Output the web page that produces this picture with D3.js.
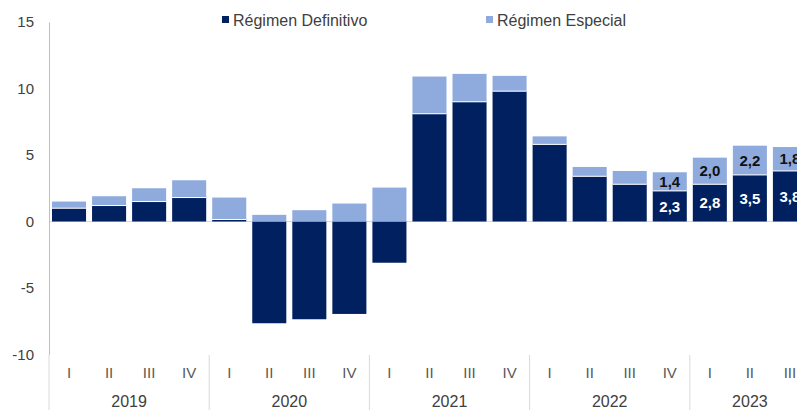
<!DOCTYPE html>
<html>
<head>
<meta charset="utf-8">
<script src="https://d3js.org/d3.v7.min.js"></script>
<style>
  body { margin: 0; background: #fff; }
  text { font-family: "Liberation Sans", Arial, sans-serif; }
</style>
</head>
<body>
<div id="chart"></div>
<script>
// data
var years = ["2019", "2020", "2021", "2022", "2023"];
var periods = [
  "2019-I", "2019-II", "2019-III", "2019-IV",
  "2020-I", "2020-II", "2020-III", "2020-IV",
  "2021-I", "2021-II", "2021-III", "2021-IV",
  "2022-I", "2022-II", "2022-III", "2022-IV",
  "2023-I", "2023-II", "2023-III"
];
var definitivo = [1.0, 1.2, 1.5, 1.8, 0.15, -7.65, -7.35, -6.95, -3.1, 8.1, 9.0, 9.8, 5.8, 3.4, 2.8, 2.3, 2.8, 3.5, 3.8];
var especial   = [0.5, 0.7, 1.0, 1.3, 1.65, 0.5, 0.85, 1.35, 2.55, 2.8, 2.1, 1.15, 0.6, 0.7, 1.0, 1.4, 2.0, 2.2, 1.8];
var labelFrom = 15; // values shown from 2022-IV on
var yTicks = [-10, -5, 0, 5, 10, 15];
var seriesNames = ["Régimen Definitivo", "Régimen Especial"];

var W = 797, H = 410;
var dark = "#00205f", light = "#8faadc";

var svg = d3.select("#chart").append("svg")
  .attr("width", W).attr("height", H);

var x = d3.scaleBand().domain(periods)
  .range([49, 49 + 19 * 40.05])
  .paddingInner(0.15).paddingOuter(0.075);

var y = d3.scaleLinear().domain([-10, 15]).range([354.5, 22]);

var fmt = function(v) { return d3.format(".1f")(v).replace(".", ","); };

// zero line
svg.append("line")
  .attr("x1", 49).attr("x2", W)
  .attr("y1", y(0)).attr("y2", y(0))
  .attr("stroke", "#d9d9d9").attr("stroke-width", 1);

// y axis
var yAxis = svg.append("g")
  .attr("transform", "translate(49,0)")
  .call(d3.axisLeft(y).tickValues(yTicks).tickSize(0).tickPadding(15)
    .tickFormat(function(v) { return String(v); }));
yAxis.select(".domain").attr("stroke", "#bfbfbf");
yAxis.selectAll("text").attr("font-size", 15).attr("fill", "#404040")
  .attr("font-family", "Liberation Sans, Arial, sans-serif");

// stacks
var rows = periods.map(function(p, i) {
  var d = definitivo[i], e = especial[i];
  var base = d > 0 ? d : 0;
  return { p: p, i: i, d: d, e: e, d0: 0, d1: d, e0: base, e1: base + e };
});

svg.selectAll(".def").data(rows).enter().append("rect")
  .attr("class", "def")
  .attr("x", function(r) { return x(r.p); })
  .attr("width", x.bandwidth())
  .attr("y", function(r) { return y(Math.max(r.d0, r.d1)); })
  .attr("height", function(r) { return Math.abs(y(r.d0) - y(r.d1)); })
  .attr("fill", dark);

svg.selectAll(".esp").data(rows).enter().append("rect")
  .attr("class", "esp")
  .attr("x", function(r) { return x(r.p); })
  .attr("width", x.bandwidth())
  .attr("y", function(r) { return y(r.e1); })
  .attr("height", function(r) { return y(r.e0) - y(r.e1); })
  .attr("fill", light);

// thin white seam between segments
svg.selectAll(".seam").data(rows.filter(function(r) { return r.d > 0; })).enter().append("line")
  .attr("x1", function(r) { return x(r.p); })
  .attr("x2", function(r) { return x(r.p) + x.bandwidth(); })
  .attr("y1", function(r) { return y(r.e0); })
  .attr("y2", function(r) { return y(r.e0); })
  .attr("stroke", "#fff").attr("stroke-width", 1);

// value labels
var lab = rows.filter(function(r) { return r.i >= labelFrom; });
svg.selectAll(".ldef").data(lab).enter().append("text")
  .attr("x", function(r) { return x(r.p) + x.bandwidth() / 2; })
  .attr("y", function(r) { return y(r.d / 2); })
  .attr("dy", "0.36em").attr("text-anchor", "middle")
  .attr("font-size", 15).attr("font-weight", "bold").attr("fill", "#fff")
  .text(function(r) { return fmt(r.d); });
svg.selectAll(".lesp").data(lab).enter().append("text")
  .attr("x", function(r) { return x(r.p) + x.bandwidth() / 2; })
  .attr("y", function(r) { return y((r.e0 + r.e1) / 2); })
  .attr("dy", "0.36em").attr("text-anchor", "middle")
  .attr("font-size", 15).attr("font-weight", "bold").attr("fill", "#111")
  .text(function(r) { return fmt(r.e); });

// category axis: quarters and years
svg.selectAll(".q").data(periods).enter().append("text")
  .attr("x", function(p) { return x(p) + x.bandwidth() / 2; })
  .attr("y", 373).attr("dy", "0.36em").attr("text-anchor", "middle")
  .attr("font-size", 15).attr("fill", "#595959")
  .text(function(p) { return p.split("-")[1]; });

var step = x.step();
years.forEach(function(yr, k) {
  var ps = periods.filter(function(p) { return p.indexOf(yr) === 0; });
  var x0 = 49 + k * 4 * step;
  var xc = (x(ps[0]) + x(ps[ps.length - 1]) + x.bandwidth()) / 2;
  svg.append("text")
    .attr("x", xc).attr("y", 401).attr("dy", "0.36em").attr("text-anchor", "middle")
    .attr("font-size", 16).attr("fill", "#404040").text(yr);
  svg.append("line")
    .attr("x1", x0).attr("x2", x0).attr("y1", 355).attr("y2", H)
    .attr("stroke", "#d9d9d9").attr("stroke-width", 1);
});

// legend
var leg = [{ name: seriesNames[0], c: dark, x: 222 }, { name: seriesNames[1], c: light, x: 486 }];
leg.forEach(function(l) {
  svg.append("rect").attr("x", l.x).attr("y", 16).attr("width", 7).attr("height", 7).attr("fill", l.c);
  svg.append("text").attr("x", l.x + 11).attr("y", 20).attr("dy", "0.36em")
    .attr("font-size", 16).attr("fill", "#404040").text(l.name);
});
</script>
</body>
</html>
